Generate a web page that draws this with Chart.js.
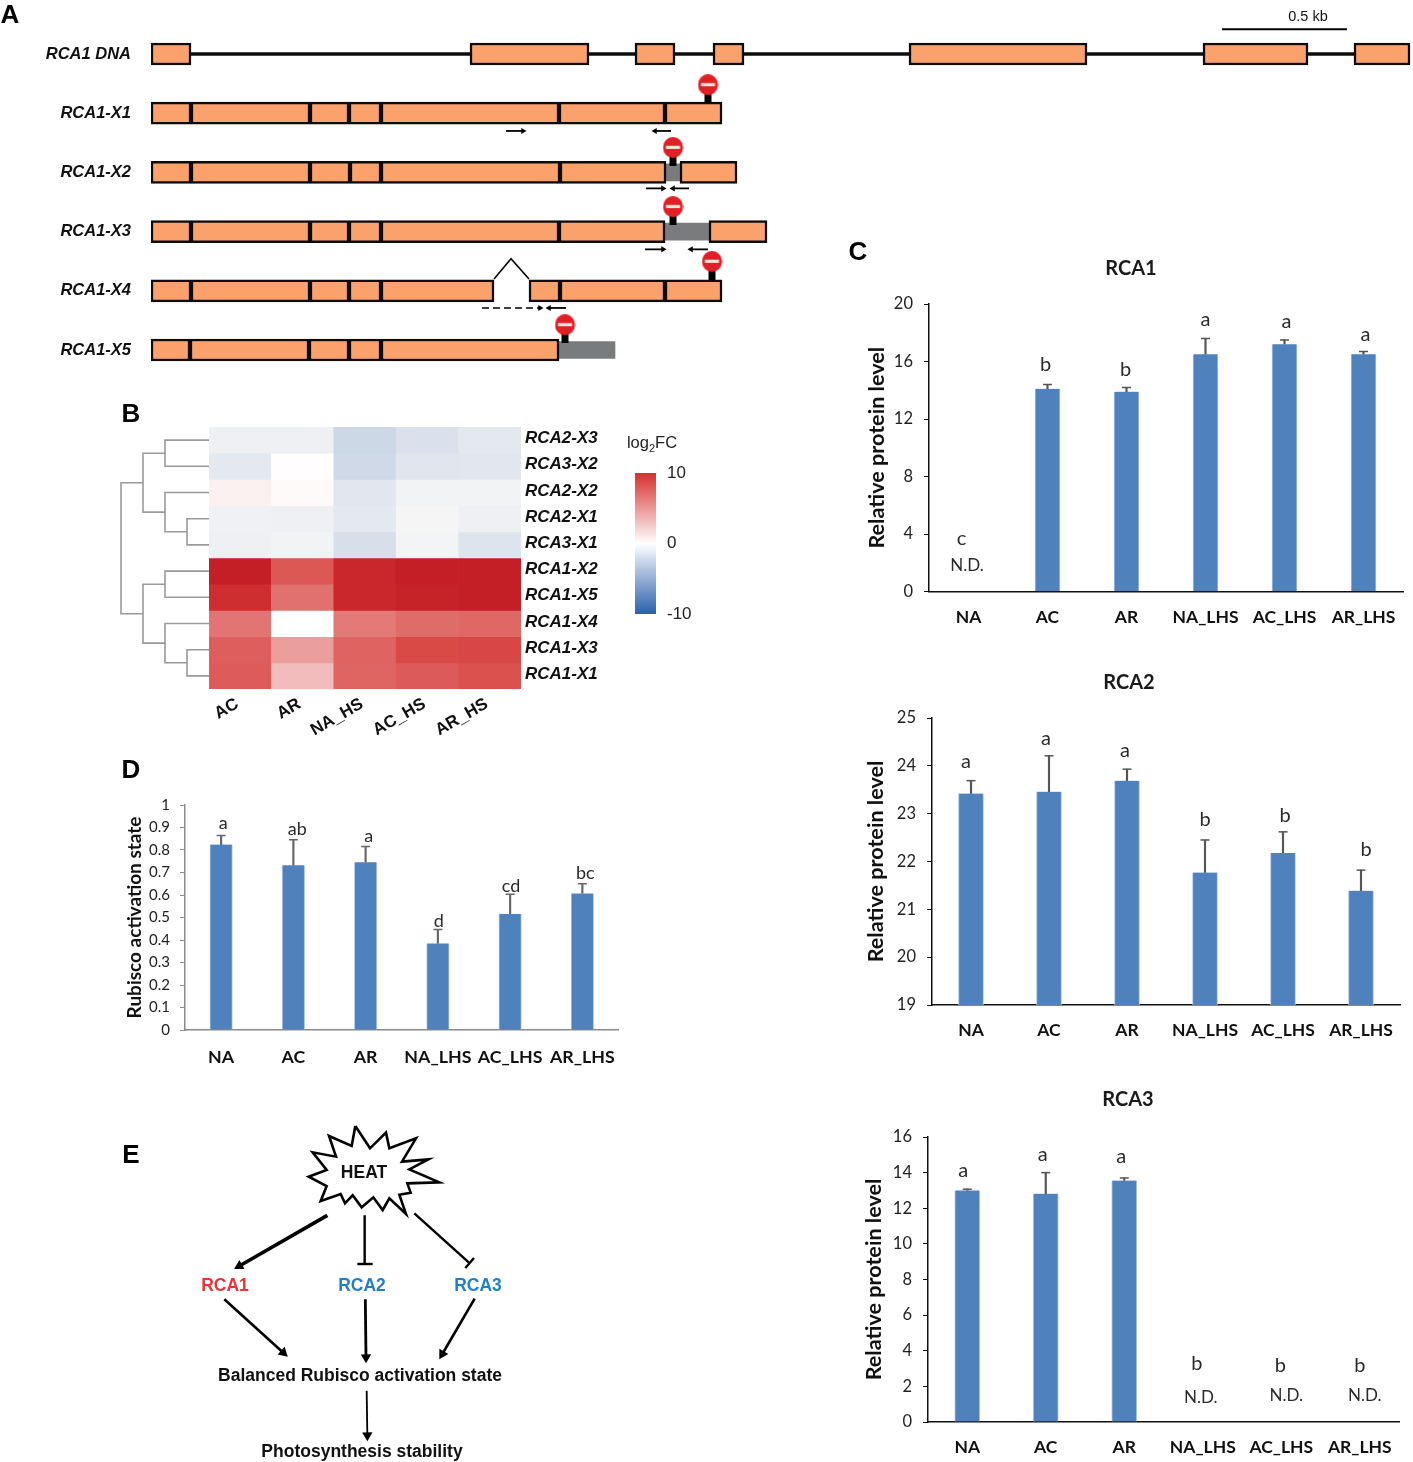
<!DOCTYPE html>
<html>
<head>
<meta charset="utf-8">
<title>RCA1 isoforms</title>
<script src="https://cdn.jsdelivr.net/npm/chart.js@4/dist/chart.umd.js"></script>
<style>
  html, body { margin: 0; background: #fff; }
  #page { position: relative; width: 1413px; height: 1462px; overflow: hidden; }
  #page canvas { position: absolute; }
  .t { position: absolute; transform: translate(-50%, -50%); white-space: nowrap; font-family: "Liberation Sans", Arial, sans-serif; color: #111; }
  .panel { font-size: 26px; font-weight: bold; color: #000; }
  .flow { font-size: 17.5px; font-weight: bold; }
</style>
</head>
<body>
<div id="page"></div>
<script>
// ---- panel A, positions in kb from the first exon
const geneRows = ['RCA1 DNA', 'RCA1-X1', 'RCA1-X2', 'RCA1-X3', 'RCA1-X4', 'RCA1-X5'];
const dnaExons = [[0, 0.16], [1.276, 1.752], [1.936, 2.096], [2.248, 2.372], [3.032, 3.744], [4.208, 4.628], [4.812, 5.036]];
const x1Exons = [[0, 0.16], [0.16, 0.636], [0.636, 0.792], [0.792, 0.92], [0.92, 1.632], [1.632, 2.056], [2.056, 2.284]];
const x2Exons = [[0, 0.16], [0.16, 0.636], [0.636, 0.796], [0.796, 0.92], [0.92, 1.636], [1.636, 2.06], [2.116, 2.344]];
const x3Exons = [[0, 0.16], [0.16, 0.636], [0.636, 0.792], [0.792, 0.92], [0.92, 1.632], [1.632, 2.056], [2.232, 2.464]];
const x4Exons = [[0, 0.16], [0.16, 0.636], [0.636, 0.792], [0.792, 0.92], [0.92, 1.372], [1.512, 1.636], [1.636, 2.056], [2.056, 2.284]];
const x5Exons = [[0, 0.156], [0.156, 0.632], [0.632, 0.792], [0.792, 0.92], [0.92, 1.632]];
const introns = [[0.16, 5.0], null, null, null, null, null];
const retained = [null, null, [2.06, 2.116], [2.056, 2.232], null, [1.632, 1.856]];
const stopKb = [2.228, 2.088, 2.088, 2.244, 1.656];
const stopRow = [0.586, 1.645, 2.645, 3.57, 4.64];
const primers = [
  [1.42, 1.488, 1.3], [2.08, 2.016, 1.3],
  [1.98, 2.048, 2.27], [2.152, 2.088, 2.27],
  [1.976, 2.048, 3.3], [2.228, 2.16, 3.3],
  [1.66, 1.592, 4.29]
];
const dashedPrimer = [1.324, 1.556, 4.29];
const spliceCaret = [[1.372, 3.8], [1.44, 3.46], [1.512, 3.8]];
const scaleBarKb = [4.284, 4.784];

// ---- panel B
const heatRows = ['RCA2-X3', 'RCA3-X2', 'RCA2-X2', 'RCA2-X1', 'RCA3-X1', 'RCA1-X2', 'RCA1-X5', 'RCA1-X4', 'RCA1-X3', 'RCA1-X1'];
const heatCols = ['AC', 'AR', 'NA_HS', 'AC_HS', 'AR_HS'];
const rca2x3 = [-0.4, -0.4, -2.0, -1.4, -0.9];
const rca3x2 = [-0.9, 0.1, -1.9, -1.1, -1.0];
const rca2x2 = [0.6, 0.2, -1.0, -0.2, -0.2];
const rca2x1 = [-0.3, -0.4, -0.9, -0.05, -0.4];
const rca3x1 = [-0.4, -0.2, -1.5, -0.15, -1.2];
const rca1x2 = [10, 7.3, 9.6, 10, 10];
const rca1x5 = [9.2, 6.2, 9.6, 9.8, 10];
const rca1x4 = [6.0, 0, 5.8, 6.4, 6.6];
const rca1x3 = [7.0, 4.2, 6.8, 7.9, 8.0];
const rca1x1 = [7.1, 2.9, 6.7, 7.2, 7.6];
const heatValues = [rca2x3, rca3x2, rca2x2, rca2x1, rca3x1, rca1x2, rca1x5, rca1x4, rca1x3, rca1x1];
// height, row A, height A, row B, height B
const dendroMerges = [
  [0.5, 0.5, 0, 1.5, 0], [0.25, 3.5, 0, 4.5, 0], [0.5, 2.5, 0, 4, 0.25], [0.75, 1, 0.5, 3.25, 0.5],
  [0.5, 5.5, 0, 6.5, 0], [0.25, 8.5, 0, 9.5, 0], [0.5, 7.5, 0, 9, 0.25], [0.75, 6, 0.5, 8.25, 0.5],
  [1, 2.125, 0.75, 7.125, 0.75]
];

// ---- panels C and D
const treatments = ['NA', 'AC', 'AR', 'NA_LHS', 'AC_LHS', 'AR_LHS'];
const rca1Mean = [null, 14.1, 13.9, 16.5, 17.2, 16.5];
const rca1Top = [null, 14.4, 14.2, 17.6, 17.5, 16.7];
const rca1Letters = ['c', 'b', 'b', 'a', 'a', 'a'];
const rca1LetterAt = [3.65, 15.8, 15.45, 18.95, 18.75, 17.85];
const rca2Mean = [23.42, 23.46, 23.69, 21.77, 22.18, 21.39];
const rca2Top = [23.69, 24.21, 23.93, 22.45, 22.62, 21.82];
const rca2Letters = ['a', 'a', 'a', 'b', 'b', 'b'];
const rca2LetterAt = [24.1, 24.58, 24.31, 22.87, 22.97, 22.26];
const rca3Mean = [13.0, 12.82, 13.56, null, null, null];
const rca3Top = [13.07, 14.0, 13.7, null, null, null];
const rca3Letters = ['a', 'a', 'a', 'b', 'b', 'b'];
const rca3LetterAt = [14.09, 14.99, 14.88, 3.26, 3.15, 3.15];
const rubiscoMean = [0.824, 0.732, 0.746, 0.385, 0.516, 0.607];
const rubiscoTop = [0.865, 0.846, 0.816, 0.447, 0.603, 0.65];
const rubiscoLetters = ['a', 'ab', 'a', 'd', 'cd', 'bc'];
const rubiscoLetterAt = [0.92, 0.893, 0.862, 0.484, 0.64, 0.698];

// ---- panel E, diagram units
const starOutline = [[736,18],[780,85],[828,38],[838,85],[918,55],[876,125],[955,118],[898,148],[988,187],[892,190],[902,218],[868,224],[888,282],[838,235],[818,270],[790,232],[755,262],[728,226],[705,250],[692,222],[632,243],[650,198],[596,170],[650,150],[608,97],[678,110],[657,48],[725,78],[736,18]];
const flowArrows = [[[652,286],[388,438],3.6],[[343,538],[520,698],2.6],[[766,538],[768,712],2.8],[[1094,536],[997,702],2.6],[[770,812],[772,946],1.8]];
const flowBlocks = [[[764,286],[764,432],[742,432],[788,432]],[[913,280],[1077,428],[1092,414],[1066,444]]];

// ============================================================
Chart.defaults.animation = false;
Chart.defaults.responsive = false;
Chart.defaults.devicePixelRatio = 1;
Chart.defaults.font.family = "'Lato', sans-serif";
Chart.defaults.color = '#222';
Chart.defaults.plugins.legend.display = false;
Chart.defaults.plugins.tooltip.enabled = false;

const page = document.getElementById('page');
const ARIAL = "'Liberation Sans', Arial, sans-serif";

function addCanvas(left, top, width, height) {
  const c = document.createElement('canvas');
  c.width = width; c.height = height;
  c.style.left = left + 'px'; c.style.top = top + 'px';
  c.style.width = width + 'px'; c.style.height = height + 'px';
  page.appendChild(c);
  return c;
}

function addText(html, x, y, cls, style) {
  const d = document.createElement('div');
  d.className = 't ' + (cls || '');
  d.innerHTML = html;
  d.style.left = x + 'px'; d.style.top = y + 'px';
  if (style) Object.assign(d.style, style);
  page.appendChild(d);
}

// fixed axis size, and no room reserved for half of the end labels
function fixWidth(w) {
  return s => { s.width = w; s.paddingTop = 0; s.paddingBottom = 0; };
}
function fixHeight(h) {
  return s => { s.height = h; s.paddingLeft = 0; s.paddingRight = 0; };
}

// straight line with an optional triangle at its far end
function lineSet(from, to, width, head, extra) {
  const angle = Math.atan2(to[0] - from[0], -(to[1] - from[1])) * 180 / Math.PI;
  return Object.assign({
    showLine: true, clip: false,
    data: [{ x: from[0], y: from[1] }, { x: to[0], y: to[1] }],
    borderColor: '#000', borderWidth: width,
    pointStyle: 'triangle', pointRadius: [0, head], pointRotation: [0, angle],
    pointBackgroundColor: '#000', pointBorderColor: '#000', pointBorderWidth: 0
  }, extra || {});
}

// ---- Panel A
function stopSign() {
  const c = document.createElement('canvas');
  c.width = 21; c.height = 29;
  const g = c.getContext('2d');
  g.fillStyle = '#000';
  g.fillRect(7, 18, 7, 11);
  g.fillStyle = '#e01f26';
  g.beginPath(); g.ellipse(10.5, 10.5, 10, 10.5, 0, 0, Math.PI * 2); g.fill();
  g.fillStyle = '#fbe3dc';
  g.fillRect(3.5, 8.8, 14, 3.2);
  return c;
}

function drawGenes() {
  const rows = [dnaExons, x1Exons, x2Exons, x3Exons, x4Exons, x5Exons];
  const slots = Math.max(...rows.map(r => r.length));
  const datasets = [];
  for (let k = 0; k < slots; k++) {
    datasets.push({
      data: rows.map(r => r[k] || null),
      backgroundColor: '#fba26c', borderColor: '#0c0c0c', borderWidth: 2.5, borderSkipped: false,
      barThickness: 22, grouped: false, order: 1
    });
  }
  datasets.push({ data: retained, backgroundColor: '#797b7c', barThickness: 17, grouped: false, order: 2 });
  datasets.push({ data: introns, backgroundColor: '#0c0c0c', barThickness: 3, grouped: false, order: 3 });

  new Chart(addCanvas(0, 0, 1413, 380), {
    type: 'bar',
    data: { labels: geneRows, datasets },
    options: {
      indexAxis: 'y',
      layout: { autoPadding: false, padding: { top: 24.4, bottom: 0.4 } },
      scales: {
        x: { type: 'linear', min: 0, max: 5.048, display: false },
        y: {
          type: 'category', offset: true,
          afterFit: fixWidth(151),
          grid: { display: false, drawTicks: false }, border: { display: false },
          ticks: { autoSkip: false, padding: 20, color: '#111', font: { family: ARIAL, size: 16.5, weight: 'bold', style: 'italic' } }
        }
      }
    }
  });

  // stop signs, primers and the scale bar, on row numbers over the same area
  const marks = [{
    data: stopKb.map((x, i) => ({ x, y: stopRow[i] })),
    pointStyle: stopSign(), clip: false
  }];
  primers.forEach(p => marks.push(lineSet([p[0], p[2]], [p[1], p[2]], 1.8, 3.5)));
  marks.push(lineSet([dashedPrimer[0], dashedPrimer[2]], [dashedPrimer[1], dashedPrimer[2]], 1.6, 3.5, { borderDash: [7, 4] }));
  marks.push({
    showLine: true, clip: false,
    data: spliceCaret.map(p => ({ x: p[0], y: p[1] })),
    borderColor: '#000', borderWidth: 1.6, pointRadius: 0
  });
  marks.push(lineSet([scaleBarKb[0], -0.42], [scaleBarKb[1], -0.42], 2, 0));

  new Chart(addCanvas(0, 0, 1413, 380), {
    type: 'scatter',
    data: { datasets: marks },
    options: {
      layout: { autoPadding: false, padding: { left: 151, top: 24.4, bottom: 0.4 } },
      scales: {
        x: { type: 'linear', min: 0, max: 5.048, display: false },
        y: { type: 'linear', min: -0.5, max: 5.5, reverse: true, display: false }
      }
    }
  });
  addText('0.5 kb', 1308, 16, '', { fontSize: '14.5px' });
}

// ---- Panel B
function hex(c) { return '#' + c.map(v => Math.round(v).toString(16).padStart(2, '0')).join(''); }
function mix(a, b, t) { return a.map((v, i) => v + (b[i] - v) * t); }
function fcColor(v) {
  if (v < 0) return hex(mix([246, 246, 246], [43, 95, 173], -v / 10));
  if (v <= 8.5) return hex(mix([255, 255, 255], [214, 60, 57], v / 8.5));
  return hex(mix([214, 60, 57], [196, 31, 38], (v - 8.5) / 1.5));
}

function drawHeatmap() {
  const datasets = heatValues.map((row, r) => ({
    data: row.map(() => [r, r + 1]),
    backgroundColor: row.map(fcColor),
    barPercentage: 1, categoryPercentage: 1, grouped: false
  }));
  new Chart(addCanvas(200, 415, 420, 320), {
    type: 'bar',
    data: { labels: heatCols, datasets },
    options: {
      layout: { autoPadding: false, padding: { left: 9, top: 12 } },
      scales: {
        x: {
          offset: true, grid: { display: false, drawTicks: false }, border: { display: false },
          afterFit: fixHeight(46),
          ticks: { autoSkip: false, minRotation: 30, maxRotation: 30, padding: 5, labelOffset: -3, color: '#111', font: { family: ARIAL, size: 17, weight: 'bold' } }
        },
        y: { type: 'linear', min: 0, max: 10, reverse: true, display: false },
        yLabels: {
          type: 'category', axis: 'y', position: 'right', labels: heatRows, offset: true,
          afterFit: fixWidth(99),
          grid: { display: false, drawTicks: false }, border: { display: false },
          ticks: { autoSkip: false, padding: 4, labelOffset: -1.5, color: '#111', font: { family: ARIAL, size: 17, weight: 'bold', style: 'italic' } }
        }
      }
    }
  });

  const links = dendroMerges.map(m => ({
    data: [{ x: m[2], y: m[1] }, { x: m[0], y: m[1] }, { x: m[0], y: m[3] }, { x: m[4], y: m[3] }],
    showLine: true, borderColor: '#9a9a9a', borderWidth: 1.6, pointRadius: 0, clip: false
  }));
  new Chart(addCanvas(115, 415, 95, 280), {
    type: 'scatter',
    data: { datasets: links },
    options: {
      layout: { autoPadding: false, padding: { left: 6, right: 1, top: 12, bottom: 6 } },
      scales: {
        x: { type: 'linear', min: 0, max: 1, reverse: true, display: false },
        y: { type: 'linear', min: 0, max: 10, reverse: true, display: false }
      }
    }
  });

  new Chart(addCanvas(610, 460, 100, 170), {
    type: 'bar',
    data: {
      labels: ['log2FC'],
      datasets: [{
        data: [[-10, 10]],
        barPercentage: 1, categoryPercentage: 1,
        backgroundColor: ctx => {
          const area = ctx.chart.chartArea;
          if (!area) return '#fff';
          const g = ctx.chart.ctx.createLinearGradient(0, area.top, 0, area.bottom);
          g.addColorStop(0, '#d7302f');
          g.addColorStop(0.5, '#ffffff');
          g.addColorStop(1, '#2b5fad');
          return g;
        }
      }]
    },
    options: {
      layout: { autoPadding: false, padding: { left: 25, top: 13 } },
      scales: {
        x: { display: true, grid: { display: false, drawTicks: false }, border: { display: false }, ticks: { display: false }, afterFit: fixHeight(16) },
        y: {
          position: 'right', min: -10, max: 10,
          afterFit: fixWidth(54),
          grid: { display: false, drawTicks: false }, border: { display: false },
          ticks: { stepSize: 10, padding: 11, color: '#222', font: { family: ARIAL, size: 17 } }
        }
      }
    }
  });
  addText('log<sub style="font-size:11px;line-height:0">2</sub>FC', 652, 442, '', { fontSize: '16.5px', color: '#222' });
}

// ---- Panels C and D
const noteLabels = {
  id: 'noteLabels',
  afterDatasetsDraw(chart, args, opts) {
    const g = chart.ctx;
    g.save();
    g.textAlign = 'center'; g.textBaseline = 'middle';
    opts.items.forEach(n => {
      g.font = n.font; g.fillStyle = n.color;
      g.fillText(n.text, chart.scales.x.getPixelForValue(n.index) + n.dx, chart.scales.y.getPixelForValue(n.at));
    });
    g.restore();
  }
};

function barPanel(cfg) {
  const notes = cfg.letters.map((text, index) => ({
    text, index, at: cfg.letterAt[index], dx: cfg.letterShift[index],
    font: `${cfg.letterSize}px Lato, sans-serif`, color: '#2b2b2b'
  }));
  (cfg.notDetected || []).forEach(n => notes.push({
    text: 'N.D.', index: n[0], at: n[1], dx: n[2], font: '17px Lato, sans-serif', color: '#2b2b2b'
  }));
  const whisker = cfg.mean.map((m, i) => (m === null ? null : [m, cfg.top[i]]));
  const plugins = { noteLabels: { items: notes } };
  let padTop = cfg.plotTop - cfg.top0;
  if (cfg.title) {
    plugins.title = {
      display: true, text: cfg.title, color: '#1a1a1a',
      font: { family: 'Lato', size: 20, weight: 'bold', lineHeight: 1 },
      padding: { top: cfg.titleY - cfg.top0 - 10, bottom: cfg.plotTop - cfg.titleY - 10 }
    };
    padTop = 0;
  }
  new Chart(addCanvas(cfg.left, cfg.top0, cfg.right - cfg.left, cfg.bottom - cfg.top0), {
    type: 'bar',
    plugins: [noteLabels],
    data: {
      labels: treatments,
      datasets: [
        { data: cfg.mean, backgroundColor: '#4f81bd', borderColor: '#a9c4e2', borderWidth: { left: 1, right: 1 }, barThickness: cfg.barWidth, grouped: false, order: 1 },
        { data: whisker, backgroundColor: cfg.errColor, barThickness: 1.5, grouped: false, order: 2 },
        {
          type: 'line', data: cfg.top, showLine: false, order: 2,
          pointStyle: 'line', pointRadius: 4.5, pointBorderColor: cfg.errColor, pointBorderWidth: 1.5
        }
      ]
    },
    options: {
      layout: { autoPadding: false, padding: { top: padTop, right: cfg.right - cfg.plotRight } },
      plugins,
      scales: {
        x: {
          offset: true,
          afterFit: fixHeight(cfg.bottom - cfg.plotBottom),
          grid: { display: false, drawTicks: false },
          border: { color: cfg.axisColor, width: cfg.axisWidth },
          ticks: { autoSkip: false, maxRotation: 0, padding: cfg.catPad, color: '#111', font: { size: cfg.catSize, weight: 'bold' } }
        },
        y: {
          min: cfg.min, max: cfg.max,
          afterFit: fixWidth(cfg.plotLeft - cfg.left),
          title: {
            display: true, text: cfg.yTitle, color: '#111',
            font: { size: cfg.yTitleSize, weight: 'bold' }, padding: { top: cfg.yTitlePad, bottom: 0 }
          },
          grid: { drawOnChartArea: false, tickLength: 5, color: cfg.axisColor },
          border: { color: cfg.axisColor, width: cfg.axisWidth },
          ticks: {
            stepSize: cfg.step, padding: cfg.tickPad, color: '#222', font: { size: cfg.tickSize },
            callback: v => String(+v.toFixed(1))
          }
        }
      }
    }
  });
}

const rcaStyle = {
  right: 1413, barWidth: 25, errColor: '#555', axisColor: '#111', axisWidth: 1.5,
  catPad: 15, catSize: 17.5, yTitle: 'Relative protein level', yTitleSize: 21.6,
  tickPad: 11, tickSize: 16.5, letterSize: 20
};

// ---- Panel E
function drawFlow() {
  const datasets = [{
    data: starOutline.map(p => ({ x: p[0], y: p[1] })),
    showLine: true, borderColor: '#000', borderWidth: 2.6, pointRadius: 0, borderJoinStyle: 'miter', clip: false
  }];
  flowArrows.forEach(a => datasets.push(lineSet(a[0], a[1], a[2], 6)));
  flowBlocks.forEach(b => {
    datasets.push(lineSet(b[0], b[1], 2.4, 0));
    datasets.push(lineSet(b[2], b[3], 2.4, 0));
  });
  new Chart(addCanvas(110, 1120, 420, 342), {
    type: 'scatter',
    data: { datasets },
    options: {
      layout: { autoPadding: false, padding: 0 },
      scales: {
        x: { type: 'linear', min: 0, max: 1260, display: false },
        y: { type: 'linear', min: 0, max: 1026, reverse: true, display: false }
      }
    }
  });
  addText('HEAT', 364, 1172, 'flow');
  addText('RCA1', 225, 1285, 'flow', { color: '#ec3237' });
  addText('RCA2', 362, 1285, 'flow', { color: '#1f7fc9' });
  addText('RCA3', 478, 1285, 'flow', { color: '#1f7fc9' });
  addText('Balanced Rubisco activation state', 360, 1375, 'flow');
  addText('Photosynthesis stability', 362, 1451, 'flow');
}

drawGenes();
drawHeatmap();

barPanel(Object.assign({}, rcaStyle, {
  left: 859, top0: 250, bottom: 640, plotLeft: 929, plotRight: 1403, plotTop: 304, plotBottom: 591.5, yTitlePad: 5,
  title: 'RCA1', titleY: 269, mean: rca1Mean, top: rca1Top, min: 0, max: 20, step: 4,
  letters: rca1Letters, letterAt: rca1LetterAt, letterShift: [-7, -2, -1, 0, 2, 2],
  notDetected: [[0, 1.84, -1.5]]
}));
barPanel(Object.assign({}, rcaStyle, {
  left: 858, top0: 664, bottom: 1054, plotLeft: 932, plotRight: 1400, plotTop: 718, plotBottom: 1005, yTitlePad: 5,
  title: 'RCA2', titleY: 683, mean: rca2Mean, top: rca2Top, min: 19, max: 25, step: 1,
  letters: rca2Letters, letterAt: rca2LetterAt, letterShift: [-5, -3, -2, 0, 2, 5]
}));
barPanel(Object.assign({}, rcaStyle, {
  left: 857, top0: 1081, bottom: 1462, plotLeft: 928, plotRight: 1399, plotTop: 1137, plotBottom: 1422, yTitlePad: 4,
  title: 'RCA3', titleY: 1100, mean: rca3Mean, top: rca3Top, min: 0, max: 16, step: 2,
  letters: rca3Letters, letterAt: rca3LetterAt, letterShift: [-4, -3, -3, -6, -1, 0],
  notDetected: [[3, 1.4, -2], [4, 1.5, 5], [5, 1.5, 5]]
}));
barPanel({
  left: 115, right: 630, top0: 790, bottom: 1080, plotLeft: 185, plotRight: 618.5, plotTop: 805, plotBottom: 1030,
  mean: rubiscoMean, top: rubiscoTop, min: 0, max: 1, step: 0.1, barWidth: 22.5, errColor: '#666',
  axisColor: '#8a8a8a', axisWidth: 1.5, catPad: 17, catSize: 17.8, yTitle: 'Rubisco activation state', yTitleSize: 19,
  yTitlePad: 8, tickPad: 10, tickSize: 15, letterSize: 18,
  letters: rubiscoLetters, letterAt: rubiscoLetterAt, letterShift: [2, 4, 3, 1, 1, 3]
});

drawFlow();

addText('A', 10, 14, 'panel');
addText('B', 131, 413, 'panel');
addText('C', 858, 251, 'panel');
addText('D', 131, 769, 'panel');
addText('E', 131, 1154, 'panel');
</script>
</body>
</html>
